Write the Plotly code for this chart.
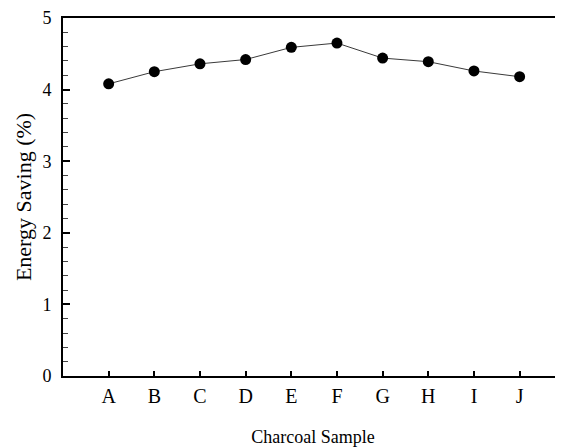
import plotly.graph_objects as go

categories = ["A", "B", "C", "D", "E", "F", "G", "H", "I", "J"]
energy_saving = [4.08, 4.25, 4.36, 4.42, 4.59, 4.65, 4.44, 4.39, 4.26, 4.18]
y_ticks = [0, 1, 2, 3, 4, 5]

FONT = "Liberation Serif"

fig = go.Figure()
fig.add_trace(go.Scatter(
    x=categories, y=energy_saving, mode="lines+markers",
    line=dict(color="#3a3a3a", width=1),
    marker=dict(color="black", size=11),
    showlegend=False,
))
# invisible companion on right axis so it renders its mirrored ticks
fig.add_trace(go.Scatter(
    x=categories, y=energy_saving, yaxis="y2", mode="lines",
    line=dict(width=0), hoverinfo="skip", showlegend=False,
))

# page body adds an 8px offset; figure sized to compensate
fig.update_layout(
    width=555, height=439,
    margin=dict(l=55, r=0, t=10, b=71, autoexpand=False),
    paper_bgcolor="white", plot_bgcolor="white",
    font=dict(family=FONT, color="black"),
    xaxis=dict(
        type="category", range=[-1, 9.95],
        showline=True, linecolor="black", linewidth=2, mirror=True,
        ticks="inside", ticklen=5, tickwidth=2, tickcolor="black",
        tickfont=dict(size=20, family=FONT), ticklabelstandoff=1,
        showgrid=False, zeroline=False,
        title=dict(text="Charcoal Sample", font=dict(size=18, family=FONT), standoff=24),
        automargin=False,
    ),
    yaxis=dict(
        range=[0, 5], tickvals=y_ticks,
        showline=True, linecolor="black", linewidth=2,
        ticks="inside", ticklen=7, tickwidth=2, tickcolor="black",
        minor=dict(ticks="inside", ticklen=5, tickwidth=1, tickcolor="#444", dtick=0.2),
        tickfont=dict(size=18, family=FONT), ticklabelstandoff=6,
        ticklabeloverflow="allow",
        showgrid=False, zeroline=False,
        title=dict(text="Energy Saving (%)", font=dict(size=22, family=FONT), standoff=5),
        automargin=False,
    ),
    yaxis2=dict(
        overlaying="y", side="right", range=[0, 5], tickvals=y_ticks,
        showline=False, showticklabels=False,
        ticks="inside", ticklen=7, tickwidth=2, tickcolor="#333",
        minor=dict(ticks="inside", ticklen=3, tickwidth=1, tickcolor="#888", dtick=0.2),
        showgrid=False, zeroline=False,
    ),
)

fig.write_html("out.html")
